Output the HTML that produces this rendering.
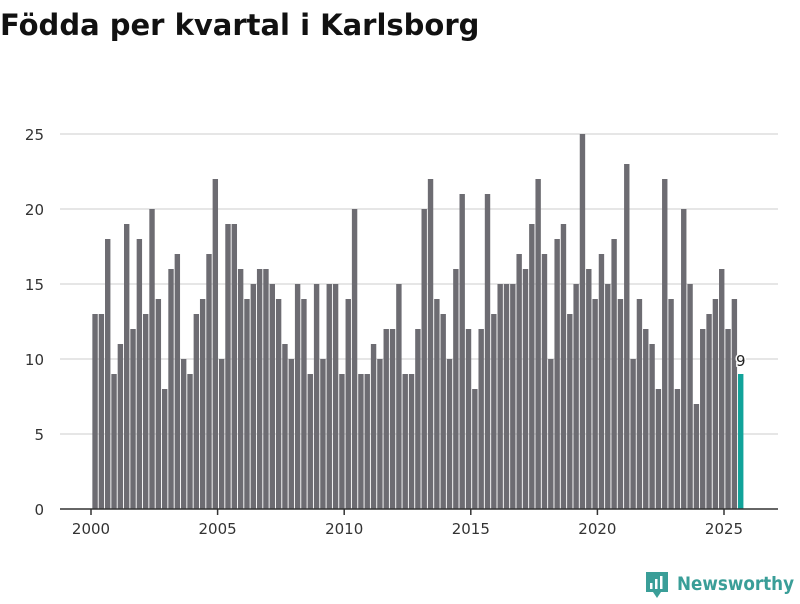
<!DOCTYPE html>
<html><head><meta charset="utf-8"><style>
body{margin:0;background:#fff;width:800px;height:600px;overflow:hidden;font-family:"DejaVu Sans",sans-serif}
</style></head><body>
<svg width="800" height="600" xmlns="http://www.w3.org/2000/svg">
<text x="0" y="35" font-size="29" font-weight="bold" fill="#111" font-family="DejaVu Sans">Födda per kvartal i Karlsborg</text>
<g id="grid"></g><g id="bars"></g><g id="xaxis"></g>
<g>
<path d="M646 572 h22 v20 h-7 l-4 6 l-4 -6 h-7 z" fill="#3a9e98"/>
<rect x="650" y="583" width="2.5" height="6" fill="#fff"/><rect x="655" y="579" width="2.5" height="10" fill="#fff"/><rect x="660" y="576" width="2.5" height="13" fill="#fff"/>
<text x="677" y="590" font-size="19" font-weight="bold" fill="#3a9e98" font-family="DejaVu Sans" textLength="117" lengthAdjust="spacingAndGlyphs">Newsworthy</text>
</g>
</svg>
<script>
const values=[13,13,18,9, 11,19,12,18, 13,20,14,8, 16,17,10,9, 13,14,17,22, 10,19,19,16, 14,15,16,16, 15,14,11,10, 15,14,9,15, 10,15,15,9, 14,20,9,9, 11,10,12,12, 15,9,9,12, 20,22,14,13, 10,16,21,12, 8,12,21,13, 15,15,15,17, 16,19,22,17, 10,18,19,13, 15,25,16,14, 17,15,18,14, 23,10,14,12, 11,8,22,14, 8,20,15,7, 12,13,14,16, 12,14,9];
const yTicks=[0,5,10,15,20,25];
const xTicks=[2000,2005,2010,2015,2020,2025];
const NS="http://www.w3.org/2000/svg";
const y=v=>509-v*15;
const x=t=>91+(t-2000)*25.32;
function mk(tag,attrs,parent){const e=document.createElementNS(NS,tag);for(const k in attrs)e.setAttribute(k,attrs[k]);document.getElementById(parent).appendChild(e);return e;}
yTicks.forEach(v=>{
  if(v>0){const l=mk('line',{x1:60,x2:778,y1:y(v),y2:y(v),stroke:'#ddd','stroke-width':1.5},'grid');
  
  }
  const t=mk('text',{x:44,y:y(v)+6,'text-anchor':'end','font-size':15,fill:'#333'},'grid');t.textContent=v;
  
  
});
values.forEach((v,i)=>{
  const cx=x(2000+i/4+0.16);const last=i===values.length-1;
  const r=mk('rect',{x:cx-2.7,y:y(v),width:5.4,height:v*15,fill:last?'#11a39a':'#6d6c72'},'bars');
  
  
  if(last){const t=mk('text',{x:cx,y:y(v)-8,'text-anchor':'middle','font-size':15,fill:'#222',stroke:'#fff','stroke-width':3,'paint-order':'stroke'},'bars');t.textContent=v;
  
  }
});
const ax=mk('line',{x1:60,x2:778,y1:509,y2:509,stroke:'#333','stroke-width':1.5},'xaxis');


xTicks.forEach(yr=>{
  const tk=mk('line',{x1:x(yr),x2:x(yr),y1:509,y2:515,stroke:'#333','stroke-width':1.5},'xaxis');
  
  
  const t=mk('text',{x:x(yr),y:534,'text-anchor':'middle','font-size':15,fill:'#333'},'xaxis');t.textContent=yr;
  
  
});
</script>
</body></html>
